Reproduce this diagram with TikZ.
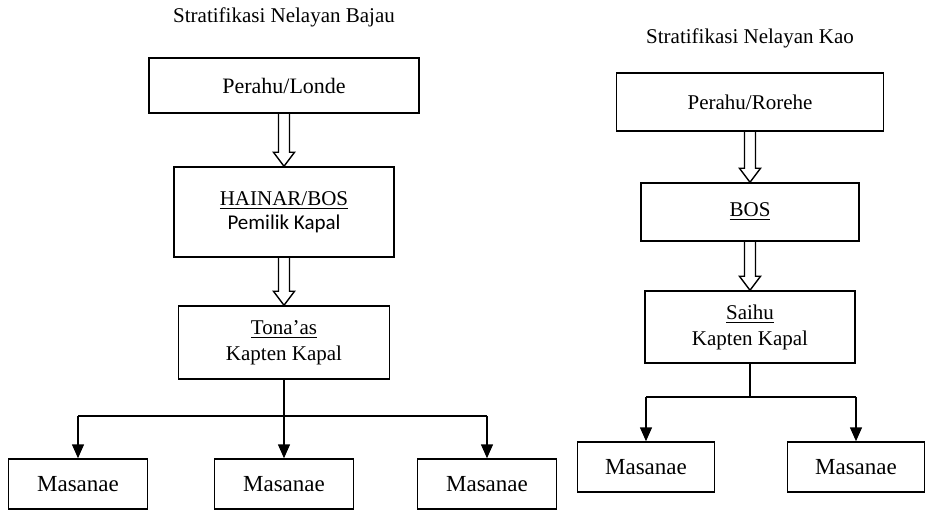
\documentclass[tikz,border=0pt]{standalone}
\usepackage{fontspec}
\setmainfont{Liberation Serif}
\newfontfamily\calibri{Carlito}
\usetikzlibrary{positioning, arrows.meta, calc}

\tikzset{
  kotak/.style={draw, line width=0.75pt, inner sep=2pt, align=center, font=\fontsize{10.5}{13}\selectfont},
  judul/.style={font=\fontsize{10.5}{13}\selectfont},
  panah/.style={line width=0.75pt, -{Triangle[width=6pt, length=7pt]}},
  garis/.style={line width=0.75pt},
}
% hollow block arrow between two stacked boxes
\newcommand{\panahkosong}[2]{%
  \draw[line width=0.7pt] ($(#1.south)+(-5.5,0)$) -- ($(#1.south |- #2.north)+(-5.5,-14)$) -- ++(-5,0)
    -- (#1.south |- #2.north) -- ++(10.5,-14) -- ++(-5,0) -- ($(#1.south)+(5.5,0)$);}

\begin{document}
\begin{tikzpicture}[x=0.5pt, y=-0.5pt]
\useasboundingbox (0,0) rectangle (932,511);

% Bajau
\node [judul] (judulB) at (284, 17) {Stratifikasi Nelayan Bajau};
\node [kotak, minimum width=135pt, minimum height=27.5pt, font=\fontsize{11}{13}\selectfont] (londe) at (284, 85.5) {Perahu/Londe};
\node [kotak, minimum width=110pt, minimum height=45pt] (hainar) at (284, 212) {\underline{HAINAR/BOS}\\[-1pt]{\calibri Pemilik Kapal}};
\node [kotak, minimum width=105.5pt, minimum height=36.5pt] (tonaas) at (284, 342.5) {\underline{Tona’as}\\Kapten Kapal};
\node [kotak, minimum width=69.5pt, minimum height=25pt, font=\fontsize{11.5}{13}\selectfont] (masB1) at (78, 484) {Masanae};
\node [kotak, minimum width=69.5pt, minimum height=25pt, font=\fontsize{11.5}{13}\selectfont] (masB2) at (284, 484) {Masanae};
\node [kotak, minimum width=69.5pt, minimum height=25pt, font=\fontsize{11.5}{13}\selectfont] (masB3) at (487, 484) {Masanae};

\panahkosong{londe}{hainar}
\panahkosong{hainar}{tonaas}

\draw [garis] (tonaas.south) -- ++(0,36) coordinate (cabB);
\draw [garis] (cabB -| masB1) -- (cabB -| masB3);
\foreach \m in {masB1, masB2, masB3} \draw [panah] (cabB -| \m) -- (\m.north);

% Kao
\node [judul] (judulK) at (750, 38) {Stratifikasi Nelayan Kao};
\node [kotak, minimum width=133.5pt, minimum height=29pt] (rorehe) at (750, 102) {Perahu/Rorehe};
\node [kotak, minimum width=109pt, minimum height=29pt] (bos) at (750, 212) {\underline{BOS}};
\node [kotak, minimum width=105pt, minimum height=36pt] (saihu) at (750, 327) {\underline{Saihu}\\Kapten Kapal};
\node [kotak, minimum width=68.5pt, minimum height=25pt, font=\fontsize{11.5}{13}\selectfont] (masK1) at (646, 467) {Masanae};
\node [kotak, minimum width=68.5pt, minimum height=25pt, font=\fontsize{11.5}{13}\selectfont] (masK2) at (856, 467) {Masanae};

\panahkosong{rorehe}{bos}
\panahkosong{bos}{saihu}

\draw [garis] (saihu.south) -- ++(0,33) coordinate (cabK);
\draw [garis] (cabK -| masK1) -- (cabK -| masK2);
\foreach \m in {masK1, masK2} \draw [panah] (cabK -| \m) -- (\m.north);
\end{tikzpicture}
\end{document}
